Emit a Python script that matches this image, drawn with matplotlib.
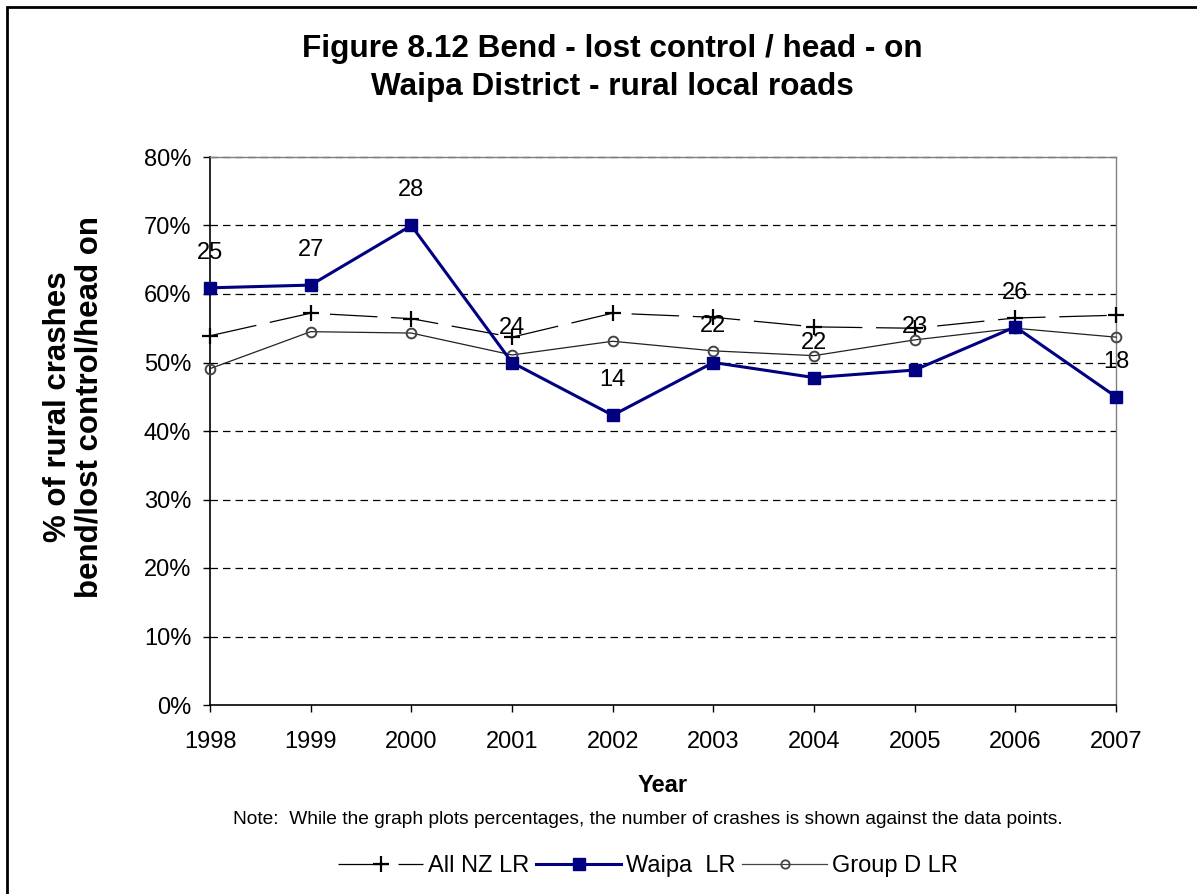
import matplotlib
matplotlib.use("Agg")
import matplotlib.pyplot as plt
from matplotlib.patches import Rectangle
from matplotlib.lines import Line2D

plt.rcParams['font.family'] = ['Liberation Sans', 'DejaVu Sans']

years = [1998, 1999, 2000, 2001, 2002, 2003, 2004, 2005, 2006, 2007]
all_nz = [53.9, 57.2, 56.4, 53.7, 57.2, 56.6, 55.2, 55.0, 56.5, 56.9]
waipa = [60.9, 61.3, 70.0, 50.0, 42.3, 50.0, 47.8, 48.9, 55.2, 45.0]
group_d = [49.1, 54.5, 54.3, 51.1, 53.1, 51.7, 51.0, 53.3, 55.0, 53.7]
waipa_counts = [25, 27, 28, 24, 14, 22, 22, 23, 26, 18]
label_offsets_px = [35, 35, 35, 35, 35, 36, 35, 43, 34, 35]

W, H = 1197, 894
fig = plt.figure(figsize=(W / 100, H / 100), dpi=100)
fig.patch.set_facecolor('white')

# outer frame
fig.patches.append(Rectangle((7 / W, -0.1), 1.2, (H - 7) / H + 0.1,
                             transform=fig.transFigure, fill=False,
                             edgecolor='black', linewidth=2.0))

ax = fig.add_axes([210 / W, 1 - 705 / H, (1116 - 210) / W, (705 - 157) / H])

x = list(range(len(years)))

ax.plot(x, all_nz, color='black', linewidth=0.9, dashes=(38, 11),
        marker='+', markersize=11, markeredgewidth=1.6, markeredgecolor='black',
        label='All NZ LR', zorder=3)
ax.plot(x, group_d, color='#222222', linewidth=0.9,
        marker='o', markersize=7, markerfacecolor='none', markeredgecolor='#444444',
        markeredgewidth=1.4, label='Group D LR', zorder=4)
ax.plot(x, waipa, color='#000080', linewidth=2.2,
        marker='s', markersize=9, markerfacecolor='#000080', markeredgecolor='#000080',
        label='Waipa  LR', zorder=5)

for xi, yi, c, off in zip(x, waipa, waipa_counts, label_offsets_px):
    ax.annotate(str(c), (xi, yi), xytext=(0, off * 0.72), textcoords='offset points',
                ha='center', va='center', fontsize=17, color='black', zorder=6)

ax.set_xlim(0, len(years) - 1)
ax.set_ylim(0, 80)
ax.set_yticks(range(0, 81, 10))
ax.set_yticklabels([f"{v}%" for v in range(0, 81, 10)], fontsize=17)
ax.set_xticks(x)
ax.set_xticklabels([str(y) for y in years], fontsize=17)
ax.tick_params(axis='both', direction='out', length=5, width=1, color='black')
ax.tick_params(axis='x', pad=14)
ax.tick_params(axis='y', pad=8.5)

for v in range(10, 81, 10):
    ax.axhline(v, color='black', linewidth=0.9, dashes=(6, 4), zorder=1)

ax.spines['left'].set_color('black')
ax.spines['bottom'].set_color('black')
ax.spines['left'].set_linewidth(1.2)
ax.spines['bottom'].set_linewidth(1.2)
ax.spines['right'].set_color('#808080')
ax.spines['top'].set_color('#808080')
ax.spines['right'].set_linewidth(1.0)
ax.spines['top'].set_linewidth(1.0)
for s in ax.spines.values():
    s.set_zorder(2)
for line in ax.lines:
    line.set_clip_on(False)

fig.text(663 / W, 1 - 785 / H, 'Year', ha='center', va='center',
         fontsize=17, fontweight='bold')
fig.text(74 / W, 1 - 407 / H, '% of rural crashes\nbend/lost control/head on',
         ha='center', va='center', rotation=90, fontsize=22.5,
         fontweight='bold', linespacing=1.08)

fig.text(612 / W, 1 - 68 / H, 'Figure 8.12 Bend - lost control / head - on\nWaipa District - rural local roads',
         ha='center', va='center', fontsize=22.7, fontweight='bold', linespacing=1.38)

fig.text(648 / W, 1 - 820 / H,
         'Note:  While the graph plots percentages, the number of crashes is shown against the data points.',
         ha='center', va='center', fontsize=13.8)

handles = [
    Line2D([0], [0], color='black', linewidth=0.9, dashes=(40, 8), marker='+',
           markersize=11, markeredgewidth=1.6),
    Line2D([0], [0], color='#000080', linewidth=2.2, marker='s', markersize=9),
    Line2D([0], [0], color='#444444', linewidth=0.9, marker='o', markersize=6,
           markerfacecolor='none', markeredgewidth=1.3),
]
fig.legend(handles, ['All NZ LR', 'Waipa  LR', 'Group D LR'], loc='center',
           bbox_to_anchor=(648 / W, 1 - 866 / H), ncol=3, frameon=False,
           fontsize=17, handlelength=3.6, handletextpad=0.2, columnspacing=0.3,
           borderpad=0.1)

fig.savefig('out.png', dpi=100, facecolor='white')
